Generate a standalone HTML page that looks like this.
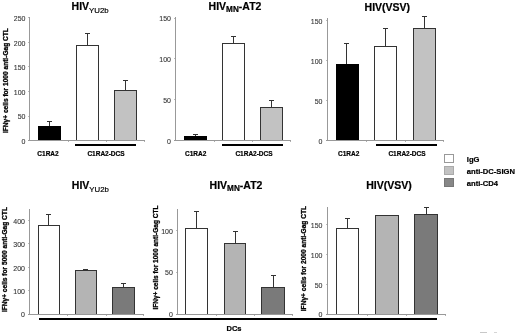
<!DOCTYPE html>
<html><head><meta charset="utf-8"><style>
html,body{margin:0;padding:0;background:#fff;}
body{width:520px;height:333px;position:relative;overflow:hidden;font-family:"Liberation Sans",sans-serif;filter:grayscale(1);}
body>div{position:absolute;}
.t{white-space:nowrap;line-height:1;}
.b{-webkit-text-stroke:0.2px #000;}
</style></head><body>
<div style="left:29px;top:17px;width:1px;height:124px;background:#999999;"></div>
<div style="left:28px;top:17px;width:1px;height:1px;background:#bbb;"></div>
<div class="t" style="right:494.5px;text-align:right;top:15.27px;font-size:7px;font-weight:normal;color:#333;-webkit-text-stroke:0.1px #333;">250</div>
<div style="left:28px;top:42px;width:1px;height:1px;background:#bbb;"></div>
<div class="t" style="right:494.5px;text-align:right;top:40.07px;font-size:7px;font-weight:normal;color:#333;-webkit-text-stroke:0.1px #333;">200</div>
<div style="left:28px;top:66px;width:1px;height:1px;background:#bbb;"></div>
<div class="t" style="right:494.5px;text-align:right;top:64.37px;font-size:7px;font-weight:normal;color:#333;-webkit-text-stroke:0.1px #333;">150</div>
<div style="left:28px;top:91px;width:1px;height:1px;background:#bbb;"></div>
<div class="t" style="right:494.5px;text-align:right;top:88.87px;font-size:7px;font-weight:normal;color:#333;-webkit-text-stroke:0.1px #333;">100</div>
<div style="left:28px;top:116px;width:1px;height:1px;background:#bbb;"></div>
<div class="t" style="right:494.5px;text-align:right;top:113.47px;font-size:7px;font-weight:normal;color:#333;-webkit-text-stroke:0.1px #333;">50</div>
<div class="t" style="right:494.5px;text-align:right;top:137.87px;font-size:7px;font-weight:normal;color:#333;-webkit-text-stroke:0.1px #333;">0</div>
<div style="left:28px;top:140px;width:117px;height:1px;background:#999999;"></div>
<div style="left:68px;top:141px;width:1px;height:1px;background:#b0b0b0;"></div>
<div style="left:106px;top:141px;width:1px;height:1px;background:#b0b0b0;"></div>
<div style="left:144px;top:141px;width:1px;height:1px;background:#b0b0b0;"></div>
<div style="left:38px;top:125.5px;width:23px;height:14.5px;background:#000;"></div>
<div style="left:48.5px;top:121px;width:1.0px;height:4.5px;background:#333;"></div>
<div style="left:46.5px;top:121px;width:5.0px;height:1px;background:#333;"></div>
<div style="left:76px;top:44.8px;width:23px;height:95.2px;background:#ffffff;box-sizing:border-box;border:1px solid #333;border-bottom:none"></div>
<div style="left:86.8px;top:32.6px;width:1.0px;height:12.2px;background:#333;"></div>
<div style="left:84.8px;top:32.6px;width:5.0px;height:1.0px;background:#333;"></div>
<div style="left:114px;top:90px;width:23px;height:50px;background:#c2c2c2;box-sizing:border-box;border:1px solid #333;border-bottom:none"></div>
<div style="left:125.0px;top:80px;width:1.0px;height:10px;background:#333;"></div>
<div style="left:123.0px;top:80px;width:5.0px;height:1px;background:#333;"></div>
<div style="left:75px;top:144px;width:61px;height:2px;background:#000;"></div>
<div class="t b" style="left:-52px;width:200px;text-align:center;top:150.7px;font-size:6.5px;font-weight:bold;color:#000;">C1RA2</div>
<div class="t b" style="left:6px;width:200px;text-align:center;top:150.7px;font-size:6.5px;font-weight:bold;color:#000;">C1RA2-DCS</div>
<div class="t b" style="left:71.6px;top:1.1px;font-size:10px;color:#000;"><span style="font-size:10.5px;font-weight:bold;">HIV</span><span style="font-size:7.8px;font-weight:normal;position:relative;top:3.4px;">YU2b</span></div>
<div class="t b" style="left:-94.5px;top:76.8px;width:200px;height:7.2px;text-align:center;font-size:7.2px;font-weight:bold;color:#000;-webkit-text-stroke:0.3px #000;transform:rotate(-90deg) scaleX(0.9162);">IFN&gamma;+ cells for 1000 anti-Gag CTL</div>
<div style="left:175px;top:17px;width:1px;height:124px;background:#999999;"></div>
<div style="left:174px;top:18px;width:1px;height:1px;background:#bbb;"></div>
<div class="t" style="right:349px;text-align:right;top:15.47px;font-size:7px;font-weight:normal;color:#333;-webkit-text-stroke:0.1px #333;">150</div>
<div style="left:174px;top:58px;width:1px;height:1px;background:#bbb;"></div>
<div class="t" style="right:349px;text-align:right;top:56.47px;font-size:7px;font-weight:normal;color:#333;-webkit-text-stroke:0.1px #333;">100</div>
<div style="left:174px;top:99px;width:1px;height:1px;background:#bbb;"></div>
<div class="t" style="right:349px;text-align:right;top:97.07px;font-size:7px;font-weight:normal;color:#333;-webkit-text-stroke:0.1px #333;">50</div>
<div class="t" style="right:349px;text-align:right;top:137.77px;font-size:7px;font-weight:normal;color:#333;-webkit-text-stroke:0.1px #333;">0</div>
<div style="left:174px;top:140px;width:117px;height:1px;background:#999999;"></div>
<div style="left:214px;top:141px;width:1px;height:1px;background:#b0b0b0;"></div>
<div style="left:252px;top:141px;width:1px;height:1px;background:#b0b0b0;"></div>
<div style="left:290px;top:141px;width:1px;height:1px;background:#b0b0b0;"></div>
<div style="left:184px;top:136px;width:23px;height:4px;background:#000;"></div>
<div style="left:194.5px;top:133.5px;width:1.0px;height:2.5px;background:#333;"></div>
<div style="left:192.5px;top:133.5px;width:5.0px;height:1.0px;background:#333;"></div>
<div style="left:222px;top:43px;width:23px;height:97px;background:#ffffff;box-sizing:border-box;border:1px solid #333;border-bottom:none"></div>
<div style="left:233.0px;top:36px;width:1.0px;height:7px;background:#333;"></div>
<div style="left:231.0px;top:36px;width:5.0px;height:1px;background:#333;"></div>
<div style="left:260px;top:106.5px;width:23px;height:33.5px;background:#c2c2c2;box-sizing:border-box;border:1px solid #333;border-bottom:none"></div>
<div style="left:271.0px;top:100px;width:1.0px;height:6.5px;background:#333;"></div>
<div style="left:269.0px;top:100px;width:5.0px;height:1px;background:#333;"></div>
<div style="left:222px;top:144px;width:61px;height:2px;background:#000;"></div>
<div class="t b" style="left:95.6px;width:200px;text-align:center;top:150.7px;font-size:6.5px;font-weight:bold;color:#000;">C1RA2</div>
<div class="t b" style="left:154px;width:200px;text-align:center;top:150.7px;font-size:6.5px;font-weight:bold;color:#000;">C1RA2-DCS</div>
<div class="t b" style="left:208.6px;top:1.0px;font-size:10px;color:#000;"><span style="font-size:10.5px;font-weight:bold;">HIV</span><span style="font-size:8.2px;font-weight:bold;position:relative;top:1.9px;">MN</span><span style="font-size:10.5px;font-weight:bold;">-AT2</span></div>
<div style="left:327px;top:18px;width:1px;height:123px;background:#999999;"></div>
<div style="left:326px;top:20px;width:1px;height:1px;background:#bbb;"></div>
<div class="t" style="right:197.5px;text-align:right;top:18.27px;font-size:7px;font-weight:normal;color:#333;-webkit-text-stroke:0.1px #333;">150</div>
<div style="left:326px;top:60px;width:1px;height:1px;background:#bbb;"></div>
<div class="t" style="right:197.5px;text-align:right;top:57.87px;font-size:7px;font-weight:normal;color:#333;-webkit-text-stroke:0.1px #333;">100</div>
<div style="left:326px;top:100px;width:1px;height:1px;background:#bbb;"></div>
<div class="t" style="right:197.5px;text-align:right;top:98.27px;font-size:7px;font-weight:normal;color:#333;-webkit-text-stroke:0.1px #333;">50</div>
<div class="t" style="right:197.5px;text-align:right;top:137.87px;font-size:7px;font-weight:normal;color:#333;-webkit-text-stroke:0.1px #333;">0</div>
<div style="left:326px;top:140px;width:118px;height:1px;background:#999999;"></div>
<div style="left:366px;top:141px;width:1px;height:1px;background:#b0b0b0;"></div>
<div style="left:405px;top:141px;width:1px;height:1px;background:#b0b0b0;"></div>
<div style="left:443px;top:141px;width:1px;height:1px;background:#b0b0b0;"></div>
<div style="left:336px;top:64px;width:23px;height:76px;background:#000;"></div>
<div style="left:346.0px;top:42.8px;width:1.0px;height:21.2px;background:#333;"></div>
<div style="left:344.0px;top:42.8px;width:5.0px;height:1.0px;background:#333;"></div>
<div style="left:374px;top:46px;width:23px;height:94px;background:#ffffff;box-sizing:border-box;border:1px solid #333;border-bottom:none"></div>
<div style="left:385.0px;top:28px;width:1.0px;height:18px;background:#333;"></div>
<div style="left:383.0px;top:28px;width:5.0px;height:1px;background:#333;"></div>
<div style="left:413px;top:27.6px;width:23px;height:112.4px;background:#c2c2c2;box-sizing:border-box;border:1px solid #333;border-bottom:none"></div>
<div style="left:423.8px;top:16.2px;width:1.0px;height:11.4px;background:#333;"></div>
<div style="left:421.8px;top:16.2px;width:5.0px;height:1.0px;background:#333;"></div>
<div style="left:376px;top:144px;width:61px;height:2px;background:#000;"></div>
<div class="t b" style="left:248.6px;width:200px;text-align:center;top:150.7px;font-size:6.5px;font-weight:bold;color:#000;">C1RA2</div>
<div class="t b" style="left:307px;width:200px;text-align:center;top:150.7px;font-size:6.5px;font-weight:bold;color:#000;">C1RA2-DCS</div>
<div class="t b" style="left:364.6px;top:1.8px;font-size:10px;color:#000;"><span style="font-size:10.5px;font-weight:bold;">HIV(VSV)</span></div>
<div style="left:444px;top:154px;width:10px;height:9px;background:#fff;box-sizing:border-box;border:1px solid #999"></div>
<div style="left:444px;top:165.5px;width:10px;height:9px;background:#c2c2c2;box-sizing:border-box;border:1px solid #aaa"></div>
<div style="left:444px;top:177.8px;width:10px;height:9px;background:#878787;box-sizing:border-box;border:1px solid #777"></div>
<div class="t b" style="left:466.8px;top:155.5px;font-size:7.6px;font-weight:bold;color:#000;">IgG</div>
<div class="t b" style="left:466.8px;top:167.8px;font-size:7.6px;font-weight:bold;color:#000;">anti-DC-SIGN</div>
<div class="t b" style="left:466.8px;top:180.3px;font-size:7.6px;font-weight:bold;color:#000;">anti-CD4</div>
<div style="left:29px;top:209px;width:1px;height:106px;background:#999999;"></div>
<div style="left:28px;top:220px;width:1px;height:1px;background:#bbb;"></div>
<div class="t" style="right:495px;text-align:right;top:217.77px;font-size:7px;font-weight:normal;color:#333;-webkit-text-stroke:0.1px #333;">400</div>
<div style="left:28px;top:243px;width:1px;height:1px;background:#bbb;"></div>
<div class="t" style="right:495px;text-align:right;top:241.27px;font-size:7px;font-weight:normal;color:#333;-webkit-text-stroke:0.1px #333;">300</div>
<div style="left:28px;top:267px;width:1px;height:1px;background:#bbb;"></div>
<div class="t" style="right:495px;text-align:right;top:264.77px;font-size:7px;font-weight:normal;color:#333;-webkit-text-stroke:0.1px #333;">200</div>
<div style="left:28px;top:290px;width:1px;height:1px;background:#bbb;"></div>
<div class="t" style="right:495px;text-align:right;top:288.27px;font-size:7px;font-weight:normal;color:#333;-webkit-text-stroke:0.1px #333;">100</div>
<div class="t" style="right:495px;text-align:right;top:311.17px;font-size:7px;font-weight:normal;color:#333;-webkit-text-stroke:0.1px #333;">0</div>
<div style="left:28px;top:314px;width:116px;height:1px;background:#999999;"></div>
<div style="left:67px;top:315px;width:1px;height:1px;background:#b0b0b0;"></div>
<div style="left:106px;top:315px;width:1px;height:1px;background:#b0b0b0;"></div>
<div style="left:143px;top:315px;width:1px;height:1px;background:#b0b0b0;"></div>
<div style="left:38px;top:224.6px;width:22px;height:89.4px;background:#ffffff;box-sizing:border-box;border:1px solid #333;border-bottom:none"></div>
<div style="left:48.2px;top:214.4px;width:1.0px;height:10.2px;background:#333;"></div>
<div style="left:46.2px;top:214.4px;width:5.0px;height:1.0px;background:#333;"></div>
<div style="left:75px;top:270px;width:22px;height:44px;background:#b4b4b4;box-sizing:border-box;border:1px solid #333;border-bottom:none"></div>
<div style="left:85.1px;top:269px;width:1.0px;height:1px;background:#333;"></div>
<div style="left:83.35px;top:269px;width:4.5px;height:1px;background:#333;"></div>
<div style="left:112px;top:286.8px;width:23px;height:27.2px;background:#7a7a7a;box-sizing:border-box;border:1px solid #333;border-bottom:none"></div>
<div style="left:123.0px;top:282.8px;width:1.0px;height:4.0px;background:#333;"></div>
<div style="left:121.0px;top:282.8px;width:5.0px;height:1.0px;background:#333;"></div>
<div class="t b" style="left:71.8px;top:179.6px;font-size:10px;color:#000;"><span style="font-size:10.5px;font-weight:bold;">HIV</span><span style="font-size:7.8px;font-weight:normal;position:relative;top:3.4px;">YU2b</span></div>
<div class="t b" style="left:-94.9px;top:255.8px;width:200px;height:7.2px;text-align:center;font-size:7.2px;font-weight:bold;color:#000;-webkit-text-stroke:0.3px #000;transform:rotate(-90deg) scaleX(0.9180);">IFN&gamma;+ cells for 5000 anti-Gag CTL</div>
<div style="left:177px;top:209px;width:1px;height:106px;background:#999999;"></div>
<div style="left:176px;top:230px;width:1px;height:1px;background:#bbb;"></div>
<div class="t" style="right:347.2px;text-align:right;top:227.57px;font-size:7px;font-weight:normal;color:#333;-webkit-text-stroke:0.1px #333;">100</div>
<div style="left:176px;top:272px;width:1px;height:1px;background:#bbb;"></div>
<div class="t" style="right:347.2px;text-align:right;top:269.47px;font-size:7px;font-weight:normal;color:#333;-webkit-text-stroke:0.1px #333;">50</div>
<div class="t" style="right:347.2px;text-align:right;top:311.17px;font-size:7px;font-weight:normal;color:#333;-webkit-text-stroke:0.1px #333;">0</div>
<div style="left:176px;top:314px;width:117px;height:1px;background:#999999;"></div>
<div style="left:216px;top:315px;width:1px;height:1px;background:#b0b0b0;"></div>
<div style="left:254px;top:315px;width:1px;height:1px;background:#b0b0b0;"></div>
<div style="left:292px;top:315px;width:1px;height:1px;background:#b0b0b0;"></div>
<div style="left:185px;top:228px;width:23px;height:86px;background:#ffffff;box-sizing:border-box;border:1px solid #333;border-bottom:none"></div>
<div style="left:195.8px;top:211.3px;width:1.0px;height:16.7px;background:#333;"></div>
<div style="left:193.8px;top:211.3px;width:5.0px;height:1.0px;background:#333;"></div>
<div style="left:224px;top:243.2px;width:22px;height:70.8px;background:#b4b4b4;box-sizing:border-box;border:1px solid #333;border-bottom:none"></div>
<div style="left:234.5px;top:231.2px;width:1.0px;height:12.0px;background:#333;"></div>
<div style="left:232.5px;top:231.2px;width:5.0px;height:1.0px;background:#333;"></div>
<div style="left:261px;top:287px;width:24px;height:27px;background:#7a7a7a;box-sizing:border-box;border:1px solid #333;border-bottom:none"></div>
<div style="left:272.7px;top:274.6px;width:1.0px;height:12.4px;background:#333;"></div>
<div style="left:270.7px;top:274.6px;width:5.0px;height:1.0px;background:#333;"></div>
<div class="t b" style="left:209.6px;top:180.3px;font-size:10px;color:#000;"><span style="font-size:10.5px;font-weight:bold;">HIV</span><span style="font-size:8.2px;font-weight:bold;position:relative;top:1.9px;">MN</span><span style="font-size:10.5px;font-weight:bold;">-AT2</span></div>
<div class="t b" style="left:55.9px;top:254.4px;width:200px;height:7.2px;text-align:center;font-size:7.2px;font-weight:bold;color:#000;-webkit-text-stroke:0.3px #000;transform:rotate(-90deg) scaleX(0.9092);">IFN&gamma;+ cells for 1000 anti-Gag CTL</div>
<div style="left:327px;top:207px;width:1px;height:108px;background:#999999;"></div>
<div style="left:326px;top:224px;width:1px;height:1px;background:#bbb;"></div>
<div class="t" style="right:197.5px;text-align:right;top:222.27px;font-size:7px;font-weight:normal;color:#333;-webkit-text-stroke:0.1px #333;">150</div>
<div style="left:326px;top:254px;width:1px;height:1px;background:#bbb;"></div>
<div class="t" style="right:197.5px;text-align:right;top:252.07px;font-size:7px;font-weight:normal;color:#333;-webkit-text-stroke:0.1px #333;">100</div>
<div style="left:326px;top:284px;width:1px;height:1px;background:#bbb;"></div>
<div class="t" style="right:197.5px;text-align:right;top:281.57px;font-size:7px;font-weight:normal;color:#333;-webkit-text-stroke:0.1px #333;">50</div>
<div class="t" style="right:197.5px;text-align:right;top:311.17px;font-size:7px;font-weight:normal;color:#333;-webkit-text-stroke:0.1px #333;">0</div>
<div style="left:326px;top:314px;width:120px;height:1px;background:#999999;"></div>
<div style="left:367px;top:315px;width:1px;height:1px;background:#b0b0b0;"></div>
<div style="left:406px;top:315px;width:1px;height:1px;background:#b0b0b0;"></div>
<div style="left:445px;top:315px;width:1px;height:1px;background:#b0b0b0;"></div>
<div style="left:336px;top:228.2px;width:23px;height:85.8px;background:#ffffff;box-sizing:border-box;border:1px solid #333;border-bottom:none"></div>
<div style="left:346.7px;top:218px;width:1.0px;height:10.2px;background:#333;"></div>
<div style="left:344.7px;top:218px;width:5.0px;height:1px;background:#333;"></div>
<div style="left:375px;top:215.3px;width:23.5px;height:98.7px;background:#b4b4b4;box-sizing:border-box;border:1px solid #333;border-bottom:none"></div>
<div style="left:414px;top:214px;width:24px;height:100px;background:#7a7a7a;box-sizing:border-box;border:1px solid #333;border-bottom:none"></div>
<div style="left:426.0px;top:207px;width:1.0px;height:7px;background:#333;"></div>
<div style="left:424.0px;top:207px;width:5.0px;height:1px;background:#333;"></div>
<div class="t b" style="left:366.2px;top:180.0px;font-size:10px;color:#000;"><span style="font-size:10.5px;font-weight:bold;">HIV(VSV)</span></div>
<div class="t b" style="left:204px;top:254.6px;width:200px;height:7.2px;text-align:center;font-size:7.2px;font-weight:bold;color:#000;-webkit-text-stroke:0.3px #000;transform:rotate(-90deg) scaleX(0.9197);">IFN&gamma;+ cells for 2000 anti-Gag CTL</div>
<div style="left:39px;top:318px;width:398px;height:2px;background:#000;"></div>
<div class="t b" style="left:134px;width:200px;text-align:center;top:324.5px;font-size:7.5px;font-weight:bold;color:#000;">DCs</div>
<div style="left:480px;top:331.5px;width:7px;height:1.5px;background:#c8c8c8;"></div>
<div style="left:494px;top:331.5px;width:3px;height:1.5px;background:#d5d5d5;"></div>
</body></html>
